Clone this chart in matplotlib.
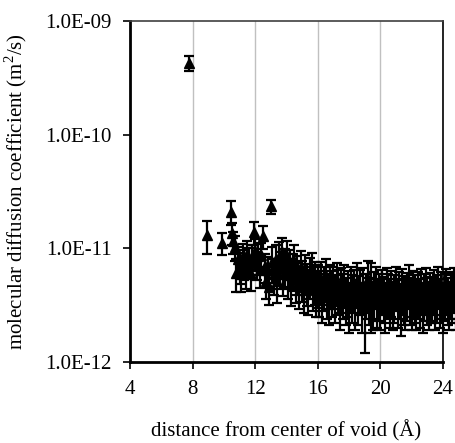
import matplotlib
matplotlib.use("Agg")
import matplotlib.pyplot as plt
from matplotlib.ticker import FixedLocator, FixedFormatter, NullLocator

plt.rcParams['font.family'] = ['Liberation Serif', 'DejaVu Serif']
plt.rcParams['mathtext.fontset'] = 'custom'
plt.rcParams['mathtext.rm'] = 'Liberation Serif'

# odległość od środka pustki (A) i współczynnik dyfuzji (1e-12 m2/s)
odl = [7.8, 8.95, 9.85, 10.45, 10.5, 10.6, 10.7, 10.8, 10.9, 11.0,
       11.1, 11.2, 11.3, 11.4, 11.5, 11.6, 11.7, 11.8, 11.9, 12.0,
       12.1, 12.2, 12.3, 12.4, 12.5, 12.6, 12.7, 12.8, 12.9, 13.0,
       13.1, 13.2, 13.3, 13.4, 13.5, 13.6, 13.7, 13.8, 13.9, 14.0,
       14.1, 14.2, 14.3, 14.4, 14.5, 14.6, 14.7, 14.8, 14.9, 15.0,
       15.1, 15.2, 15.3, 15.4, 15.5, 15.6, 15.7, 15.8, 15.9, 16.0,
       16.1, 16.2, 16.3, 16.4, 16.5, 16.6, 16.7, 16.8, 16.9, 17.0,
       17.1, 17.2, 17.3, 17.4, 17.5, 17.6, 17.7, 17.8, 17.9, 18.0,
       18.1, 18.2, 18.3, 18.4, 18.5, 18.6, 18.7, 18.8, 18.9, 19.0,
       19.1, 19.2, 19.3, 19.4, 19.5, 19.6, 19.7, 19.8, 19.9, 20.0,
       20.1, 20.2, 20.3, 20.4, 20.5, 20.6, 20.7, 20.8, 20.9, 21.0,
       21.1, 21.2, 21.3, 21.4, 21.5, 21.6, 21.7, 21.8, 21.9, 22.0,
       22.1, 22.2, 22.3, 22.4, 22.5, 22.6, 22.7, 22.8, 22.9, 23.0,
       23.1, 23.2, 23.3, 23.4, 23.5, 23.6, 23.7, 23.8, 23.9, 24.0,
       24.1, 24.2, 24.3, 24.4, 24.5, 24.6, 24.7, 24.8, 24.9, 25.0]

dyf = [427, 13.1, 11.2, 21.0, 13.7, 11.5, 10.3, 6.1, 8.0, 7.0,
       6.0, 8.5, 7.5, 6.2, 9.0, 7.8, 5.9, 8.2, 13.9, 9.5,
       7.3, 8.6, 6.4, 8.8, 12.8, 7.0, 5.2, 6.5, 4.6, 23.5,
       7.6, 6.0, 8.0, 5.2, 8.4, 6.8, 9.2, 6.0, 7.2, 8.6,
       5.8, 7.0, 5.0, 6.6, 7.8, 5.4, 6.2, 4.8, 6.9, 5.6,
       4.6, 6.3, 5.2, 4.4, 5.9, 6.6, 4.8, 5.4, 4.3, 5.1,
       4.4, 5.4, 3.9, 4.8, 5.7, 4.2, 3.7, 5.0, 4.4, 4.9,
       4.0, 5.3, 4.5, 3.5, 4.7, 4.2, 5.1, 3.8, 4.4, 3.4,
       4.8, 4.0, 4.6, 3.6, 5.2, 3.9, 4.5, 3.4, 4.7, 3.1,
       4.2, 5.4, 3.8, 4.6, 3.5, 4.3, 4.9, 3.7, 4.1, 3.6,
       4.5, 3.9, 3.4, 4.7, 4.2, 3.7, 4.4, 3.5, 4.0, 4.8,
       3.7, 4.3, 3.3, 4.6, 3.9, 3.6, 4.2, 5.0, 3.8, 3.5,
       4.4, 4.0, 3.6, 4.3, 3.7, 4.6, 3.4, 4.1, 4.7, 3.8,
       3.5, 4.2, 3.9, 4.5, 3.6, 4.0, 4.9, 3.7, 4.3, 3.4,
       4.1, 4.6, 3.8, 3.5, 4.3, 4.0, 4.7, 3.6, 4.2, 3.9]

blad = [65, 4.2, 2.5, 5.0, 3.0, 2.5, 2.5, 2.0, 2.3, 2.1,
        1.9, 2.4, 2.2, 1.8, 2.5, 2.2, 1.7, 2.4, 3.2, 2.6,
        2.0, 2.3, 1.9, 2.4, 3.0, 2.0, 1.6, 1.9, 1.4, 3.3,
        2.6, 2.1, 2.8, 1.9, 2.9, 2.4, 3.1, 2.2, 2.6, 2.9,
        2.2, 2.6, 1.9, 2.4, 2.8, 2.1, 2.3, 1.9, 2.6, 2.2,
        1.9, 2.4, 2.1, 1.8, 2.3, 2.5, 2.0, 2.2, 1.8, 2.1,
        1.9, 2.2, 1.7, 2.0, 2.3, 1.8, 1.6, 2.1, 1.9, 2.0,
        1.8, 2.2, 1.9, 1.6, 2.0, 1.8, 2.1, 1.7, 1.9, 1.6,
        2.0, 1.8, 1.9, 1.7, 2.2, 1.8, 1.9, 1.6, 2.0, 1.9,
        1.8, 2.3, 1.7, 2.8, 1.6, 1.9, 2.0, 1.7, 1.8, 1.7,
        1.9, 1.7, 1.6, 2.0, 1.8, 1.7, 1.9, 1.6, 1.8, 2.0,
        1.7, 1.9, 1.6, 2.0, 1.8, 1.7, 1.9, 2.1, 1.7, 1.6,
        1.9, 1.8, 1.7, 1.9, 1.7, 2.0, 1.6, 1.8, 2.0, 1.7,
        1.6, 1.9, 1.7, 1.9, 1.7, 1.8, 2.0, 1.7, 1.9, 1.6,
        1.8, 2.0, 1.7, 1.6, 1.9, 1.8, 2.0, 1.7, 1.8, 1.7]

x_ticki = [4, 8, 12, 16, 20, 24]
y_ticki = [1e-12, 1e-11, 1e-10, 1e-9]
y_etykiety = ["1.0E-12", "1.0E-11", "1.0E-10", "1.0E-09"]

y = [v * 1e-12 for v in dyf]
yerr = [v * 1e-12 for v in blad]

fig = plt.figure(figsize=(4.56, 4.43), dpi=100)
ax = fig.add_axes([130 / 456, 1 - 362 / 443, 313 / 456, 341 / 443])

ax.errorbar(odl, y, yerr=yerr, fmt='^', color='black', ms=7,
            elinewidth=1.6, capsize=3.5, capthick=1.6, clip_on=False, zorder=3)

ax.set_yscale('log')
ax.set_xlim(4, 24)
ax.set_ylim(1e-12, 1e-9)
ax.xaxis.set_major_locator(FixedLocator(x_ticki))
ax.yaxis.set_major_locator(FixedLocator(y_ticki))
ax.yaxis.set_major_formatter(FixedFormatter(y_etykiety))
ax.yaxis.set_minor_locator(NullLocator())
ax.grid(axis='x', color='#c0c0c0', lw=1, zorder=0)
ax.set_axisbelow(True)

for s in ['left', 'bottom']:
    ax.spines[s].set_linewidth(2)
ax.spines['top'].set_color('#404040')
ax.spines['top'].set_linewidth(1.2)
ax.spines['right'].set_linewidth(1.2)

ax.tick_params(axis='both', direction='out', length=5, width=1.2,
               labelsize=15, colors='black', pad=8)
ax.set_xlabel("distance from center of void (Å)", fontsize=15, labelpad=15)
ax.set_ylabel("molecular diffusion coefficient (m$^2$/s)", fontsize=15, labelpad=12)

fig.savefig("out.png", dpi=100)
